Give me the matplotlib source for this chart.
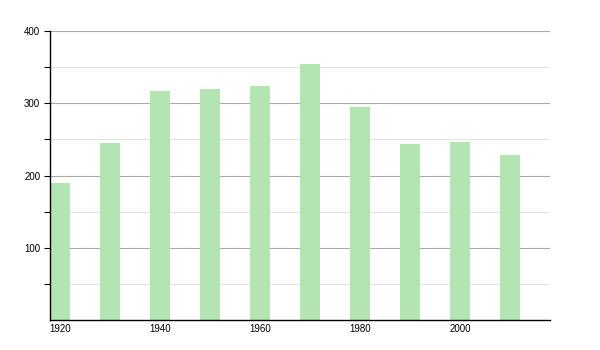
import matplotlib
matplotlib.use("Agg")
import matplotlib.pyplot as plt

years = [1920, 1930, 1940, 1950, 1960, 1970, 1980, 1990, 2000, 2010]
population = [189, 245, 317, 320, 324, 355, 295, 243, 246, 228]
xtick_years = [1920, 1940, 1960, 1980, 2000]
ytick_major = [100, 200, 300, 400]
ytick_minor = [50, 150, 250, 350]

plt.rcParams['font.family'] = ['Liberation Sans', 'DejaVu Sans']

fig = plt.figure(figsize=(6, 3.5), dpi=100)
ax = fig.add_axes([50/600, 30/350, 500/600, 289/350])

ax.bar(years, population, width=4.1, align='edge', color='#b2e5b2', zorder=2, linewidth=0)

ax.set_xlim(1920, 2020)
ax.set_ylim(0, 400)

ax.set_yticks(ytick_major)
ax.set_yticks(ytick_minor, minor=True)
ax.set_yticklabels([str(v) for v in ytick_major], fontsize=7)
ax.yaxis.grid(True, which='major', color='#aaaaaa', linewidth=0.8, zorder=0)
ax.yaxis.grid(True, which='minor', color='#e4e4e4', linewidth=0.8, zorder=0)
ax.set_axisbelow(True)
ax.tick_params(axis='y', which='both', length=4, width=0.8, color='black', pad=3)

ax.set_xticks([y + 2 for y in xtick_years])
ax.set_xticklabels([str(y) for y in xtick_years], fontsize=7)
ax.tick_params(axis='x', length=0, pad=3)

for s in ['top', 'right']:
    ax.spines[s].set_visible(False)
for s in ['left', 'bottom']:
    ax.spines[s].set_color('black')
    ax.spines[s].set_linewidth(1)

fig.savefig('out.png', dpi=100)
